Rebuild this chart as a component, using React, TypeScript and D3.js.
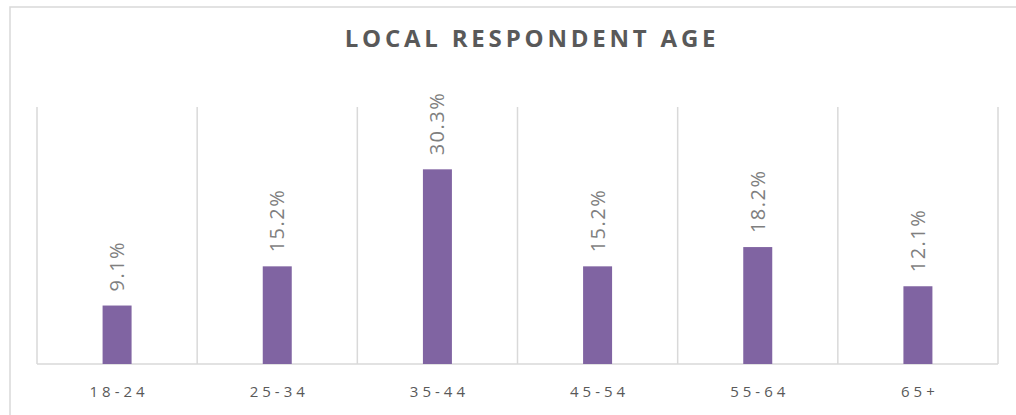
import React from "react";
import * as d3 from "d3";

const categories = ["18-24", "25-34", "35-44", "45-54", "55-64", "65+"];
const values = [9.1, 15.2, 30.3, 15.2, 18.2, 12.1];
const title = "LOCAL RESPONDENT AGE";

const W = 1016;
const H = 415;
const plot = { left: 37, right: 998, top: 107, bottom: 364 };

export default function App() {
  const x = d3
    .scaleBand<string>()
    .domain(categories)
    .range([plot.left, plot.right])
    .paddingInner(0)
    .paddingOuter(0);
  const y = d3.scaleLinear().domain([0, 40]).range([plot.bottom, plot.top]);
  const barW = 29;
  const fontFam = "'Open Sans', 'Noto Sans', sans-serif";
  const gridXs = categories.map((c) => x(c)!).concat([plot.right]);

  return (
    <svg
      width={W}
      height={H}
      style={{ position: "absolute", left: 0, top: 0, background: "#fff" }}
    >
      <rect x={10} y={7} width={W + 20} height={H + 20} fill="#fff" stroke="#d9d9d9" strokeWidth={1.5} />
      <text
        x={532}
        y={47}
        textAnchor="middle"
        fontFamily={fontFam}
        fontWeight={700}
        fontSize={24}
        letterSpacing={3.8}
        fill="#595959"
      >
        {title}
      </text>
      {gridXs.map((gx, i) => (
        <line key={i} x1={gx} x2={gx} y1={plot.top} y2={plot.bottom} stroke="#d9d9d9" strokeWidth={1.5} />
      ))}
      <line x1={plot.left} x2={plot.right} y1={plot.bottom} y2={plot.bottom} stroke="#d9d9d9" strokeWidth={1.5} />
      {categories.map((c, i) => {
        const cx = x(c)! + x.bandwidth() / 2;
        const top = y(values[i]);
        return (
          <g key={c}>
            <rect x={cx - barW / 2} y={top} width={barW} height={plot.bottom - top} fill="#8064a2" />
            <text
              transform={`translate(${cx + 7},${top - 14}) rotate(-90)`}
              fontFamily={fontFam}
              fontSize={20}
              letterSpacing={1.5}
              fill="#7f7f7f"
              textAnchor="start"
            >
              {values[i].toFixed(1) + "%"}
            </text>
            <text
              x={cx + 2}
              y={397}
              textAnchor="middle"
              fontFamily={fontFam}
              fontSize={15}
              letterSpacing={4}
              fill="#595959"
            >
              {c}
            </text>
          </g>
        );
      })}
    </svg>
  );
}
